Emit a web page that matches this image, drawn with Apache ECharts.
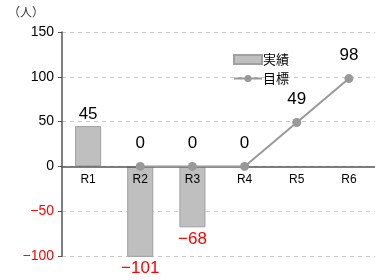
<!DOCTYPE html>
<html>
<head>
<meta charset="utf-8">
<script src="https://cdn.jsdelivr.net/npm/echarts@6/dist/echarts.min.js"></script>
<style>
  html, body { margin: 0; padding: 0; background: #fff; }
  #chart { width: 375px; height: 280px; }
</style>
</head>
<body>
<div id="chart"></div>
<script>
const categories = ['R1', 'R2', 'R3', 'R4', 'R5', 'R6'];
const actual = [45, -101, -68, null, null, null];
const target = [null, 0, 0, 0, 49, 98];
const yTicks = { min: -100, max: 150, interval: 50 };

const font = 'Arial, "Noto Sans CJK JP", sans-serif';
const gridTop = 32, gridBottom = 24, chartH = 280;

const chart = echarts.init(document.getElementById('chart'));

// x axis sits on the zero line, labels right under it
const plotH = chartH - gridTop - gridBottom;
const zeroOffset = plotH * (0 - yTicks.min) / (yTicks.max - yTicks.min);

// negative values get red labels below the bar
const barData = actual.map(v => {
  if (v === null) return '-';
  return {
    value: v,
    label: {
      position: v < 0 ? 'bottom' : 'top',
      color: v < 0 ? '#ff0000' : '#000',
      distance: 3
    }
  };
});

const option = {
  animation: false,
  textStyle: { fontFamily: font },
  graphic: [{
    type: 'text',
    left: 8,
    top: 6,
    style: { text: '（人）', fontSize: 12, fill: '#333', fontFamily: '"Noto Sans CJK JP", sans-serif' }
  }],
  legend: {
    orient: 'vertical',
    left: 228,
    top: 48,
    itemGap: 6,
    itemWidth: 28,
    itemHeight: 9,
    textStyle: { fontSize: 13, color: '#000', fontFamily: '"Noto Sans CJK JP", sans-serif', padding: [0, 0, 0, -4] },
    data: [
      { name: '実績', icon: 'rect' },
      { name: '目標' }
    ]
  },
  grid: { left: 62, right: 0, top: gridTop, bottom: gridBottom, containLabel: false },
  xAxis: {
    type: 'category',
    data: categories,
    offset: -zeroOffset,
    z: 3,
    axisLine: { onZero: false, lineStyle: { color: '#555', width: 1.5 } },
    axisTick: { show: false },
    axisLabel: { fontSize: 12, color: '#000', margin: 7 },
    splitLine: { show: false }
  },
  yAxis: {
    type: 'value',
    min: yTicks.min,
    max: yTicks.max,
    interval: yTicks.interval,
    axisLine: { show: true, lineStyle: { color: '#555', width: 1.5 } },
    axisTick: { show: true, length: 4, lineStyle: { color: '#555' } },
    axisLabel: {
      fontSize: 14,
      margin: 8,
      color: v => (Number(v) < 0 ? '#ff0000' : '#000'),
      formatter: v => (v < 0 ? '\u2212' + Math.abs(v) : String(v))
    },
    splitLine: { show: true, lineStyle: { color: '#c8c8c8', type: [4, 4] } }
  },
  series: [
    {
      name: '実績',
      type: 'bar',
      data: barData,
      barWidth: '50%',
      clip: false,
      itemStyle: { color: '#bfbfbf', borderColor: '#a0a0a0', borderWidth: 1 },
      label: {
        show: true,
        fontSize: 17,
        formatter: p => (p.value < 0 ? '\u2212' + Math.abs(p.value) : String(p.value))
      }
    },
    {
      name: '目標',
      type: 'line',
      z: 5,
      data: target,
      symbol: 'circle',
      symbolSize: 9,
      lineStyle: { color: '#999', width: 2 },
      itemStyle: { color: '#999' },
      label: {
        show: true,
        position: 'top',
        distance: 10,
        fontSize: 17,
        color: '#000'
      }
    }
  ]
};

chart.setOption(option);
</script>
</body>
</html>
